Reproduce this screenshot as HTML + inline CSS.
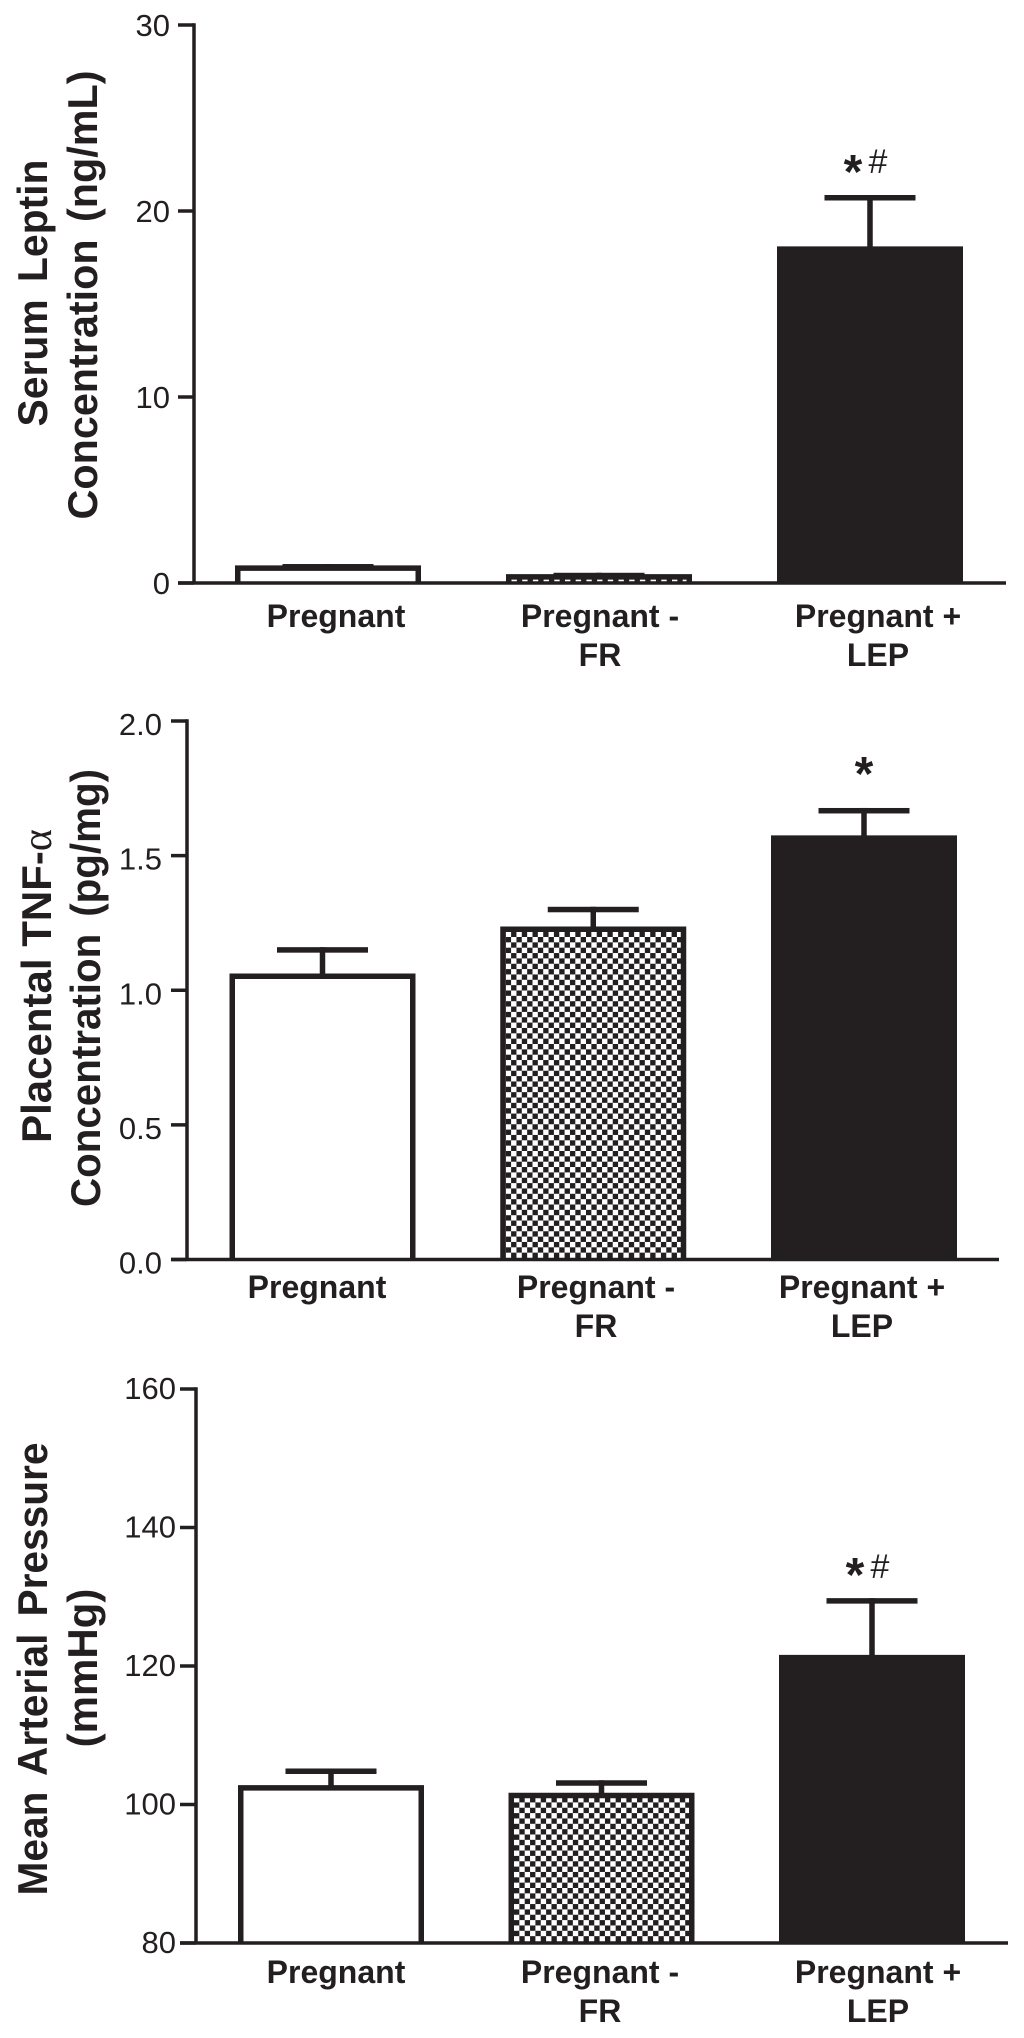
<!DOCTYPE html>
<html lang="en">
<head>
<meta charset="utf-8">
<title>Serum leptin, placental TNF-alpha and mean arterial pressure</title>
<style>
  html, body { margin: 0; padding: 0; background: #fff; }
  svg { display: block; }
  text { fill: #231f20; font-family: "Liberation Sans", sans-serif; }
  .tick { font-size: 31px; }
  .cat { font-size: 32px; font-weight: bold; }
  .ytitle { font-size: 42px; font-weight: bold; word-spacing: 6px; }
</style>
</head>
<body>
<svg id="figure" xmlns="http://www.w3.org/2000/svg" width="1024" height="2038" viewBox="0 0 1024 2038">
  <rect x="0" y="0" width="1024" height="2038" fill="#fff"/>
  <g>
    <text class="ytitle" transform="translate(47,293) rotate(-90)" text-anchor="middle" textLength="267" lengthAdjust="spacingAndGlyphs">Serum Leptin</text>
    <text class="ytitle" transform="translate(97,295) rotate(-90)" text-anchor="middle" textLength="449" lengthAdjust="spacingAndGlyphs">Concentration (ng/mL)</text>
  </g>
  <g>
    <text class="ytitle" transform="translate(51,986) rotate(-90)" text-anchor="middle" style="word-spacing:0">Placental TNF-<tspan style="font-family:'Liberation Serif',serif;font-weight:normal">α</tspan></text>
    <text class="ytitle" transform="translate(100,988) rotate(-90)" text-anchor="middle" textLength="438" lengthAdjust="spacingAndGlyphs">Concentration (pg/mg)</text>
  </g>
  <g>
    <text class="ytitle" transform="translate(47,1669) rotate(-90)" text-anchor="middle" textLength="453" lengthAdjust="spacingAndGlyphs">Mean Arterial Pressure</text>
    <text class="ytitle" transform="translate(97,1668) rotate(-90)" text-anchor="middle">(mmHg)</text>
  </g>
</svg>
<script>
// Shared category labels (two-line x labels)
const categoryLine1 = ['Pregnant', 'Pregnant -', 'Pregnant +'];
const categoryLine2 = ['', 'FR', 'LEP'];

// Panel 1: serum leptin
const leptinTicks = [0, 10, 20, 30];
const leptinTickLabels = ['0', '10', '20', '30'];
const leptinValues = [0.95, 0.48, 18.1];
const leptinErrors = [1.02, 0.55, 20.86];
const leptinMarks = ['', '', '*#'];

// Panel 2: placental TNF-alpha
const tnfTicks = [0, 0.5, 1, 1.5, 2];
const tnfTickLabels = ['0.0', '0.5', '1.0', '1.5', '2.0'];
const tnfValues = [1.062, 1.237, 1.575];
const tnfErrors = [1.16, 1.31, 1.677];
const tnfMarks = ['', '', '*'];

// Panel 3: mean arterial pressure
const pressureTicks = [80, 100, 120, 140, 160];
const pressureTickLabels = ['80', '100', '120', '140', '160'];
const pressureValues = [102.8, 101.7, 121.6];
const pressureErrors = [105.2, 103.5, 129.8];
const pressureMarks = ['', '', '*#'];

const INK = '#231f20';
const NS = 'http://www.w3.org/2000/svg';
const svg = document.getElementById('figure');

function make(parent, tag, attrs) {
  const el = document.createElementNS(NS, tag);
  for (const k in attrs) el.setAttribute(k, attrs[k]);
  parent.appendChild(el);
  return el;
}

function drawPanel(p) {
  const yOf = v => p.y0 + (v - p.vMin) / (p.vMax - p.vMin) * (p.y1 - p.y0);
  const xOf = i => p.firstCenter + i * p.step;
  const border = 5.5;

  const group = make(svg, 'g', {});
  
  

  // checker fill, anchored on the baseline and on the second bar's inner edge
  const defs = make(group, 'defs', {});
  const cell = 5.35;
  const pat = make(defs, 'pattern', {
    id: p.name + '-checker', patternUnits: 'userSpaceOnUse',
    width: cell * 2, height: cell * 2,
    patternTransform: 'translate(' + (xOf(1) - p.barW / 2 + border) + ',' + (p.y0 - 1.5) + ')'
  });
  make(pat, 'rect', { x: 0, y: 0, width: cell * 2, height: cell * 2, fill: '#fff' });
  make(pat, 'rect', { x: 0, y: 0, width: cell, height: cell, fill: INK });
  make(pat, 'rect', { x: cell, y: cell, width: cell, height: cell, fill: INK });
  const fills = ['#fff', 'url(#' + p.name + '-checker)', INK];

  // bars and error bars
  p.values.forEach((v, i) => {
    const cx = xOf(i);
    const top = yOf(v);
    const errTop = yOf(p.errors[i]);

    const stem = make(group, 'rect', { x: cx - border / 2, y: errTop, width: border, height: Math.max(0, top - errTop + 1), fill: INK });
    
    

    const cap = make(group, 'rect', { x: cx - 45.5, y: errTop, width: 91, height: border, fill: INK });
    
    

    // three-sided outline: the baseline closes the bottom of the bar
    const left = cx - p.barW / 2 + border / 2;
    const right = cx + p.barW / 2 - border / 2;
    const inTop = top + border / 2;
    const bar = make(group, 'path', {
      d: 'M' + left + ' ' + p.y0 + 'V' + inTop + 'H' + right + 'V' + p.y0,
      fill: fills[i], stroke: INK, 'stroke-width': border
    });
    
    

    // significance marks
    const mark = p.marks[i];
    if (mark) {
      const both = mark.length > 1;
      const star = make(group, 'text', {
        x: both ? cx - 17 : cx, y: errTop + p.starDy,
        'text-anchor': 'middle', 'font-size': 48, 'font-weight': 'bold'
      });
      star.textContent = mark.charAt(0);
      
      
      if (both) {
        const hash = make(group, 'text', {
          x: cx + 8, y: errTop + p.hashDy,
          'text-anchor': 'middle', 'font-size': 34
        });
        hash.textContent = mark.charAt(1);
        
        
      }
    }

    // category labels
    const lab1 = make(group, 'text', { class: 'cat', x: p.labelX[i], y: p.labelY, 'text-anchor': 'middle' });
    lab1.textContent = categoryLine1[i];
    
    
    if (categoryLine2[i]) {
      const lab2 = make(group, 'text', { class: 'cat', x: p.labelX[i], y: p.labelY + 39, 'text-anchor': 'middle' });
      lab2.textContent = categoryLine2[i];
      
      
    }
  });

  // axes
  const yAxis = make(group, 'line', { x1: p.axisX, x2: p.axisX, y1: yOf(p.vMax) - 1.75, y2: p.y0, stroke: INK, 'stroke-width': 3.5 });
  
  

  const xAxis = make(group, 'line', { x1: p.axisX - 16, x2: p.xEnd, y1: p.y0, y2: p.y0, stroke: INK, 'stroke-width': 3.5 });
  
  

  p.ticks.forEach((t, i) => {
    const y = yOf(t);
    const tick = make(group, 'line', { x1: p.axisX - 16, x2: p.axisX, y1: y, y2: y, stroke: INK, 'stroke-width': 3.5 });
    
    

    const label = make(group, 'text', { class: 'tick', x: p.axisX - p.tickGap, y: y + p.tickDy, 'text-anchor': 'end' });
    label.textContent = p.tickLabels[i];
    
    
  });
}

drawPanel({
  name: 'leptin', values: leptinValues, errors: leptinErrors, marks: leptinMarks,
  ticks: leptinTicks, tickLabels: leptinTickLabels,
  vMin: 0, vMax: 30, y0: 583, y1: 25, axisX: 194, xEnd: 1006,
  firstCenter: 328, step: 271, barW: 186,
  labelX: [336, 600, 878], labelY: 627, tickGap: 24, tickDy: 11, starDy: -7, hashDy: -22
});

drawPanel({
  name: 'tnf', values: tnfValues, errors: tnfErrors, marks: tnfMarks,
  ticks: tnfTicks, tickLabels: tnfTickLabels,
  vMin: 0, vMax: 2, y0: 1259.5, y1: 721, axisX: 187, xEnd: 999,
  firstCenter: 322.5, step: 270.75, barW: 186,
  labelX: [317, 596, 862], labelY: 1298, tickGap: 25, tickDy: 14, starDy: -18, hashDy: -22
});

drawPanel({
  name: 'pressure', values: pressureValues, errors: pressureErrors, marks: pressureMarks,
  ticks: pressureTicks, tickLabels: pressureTickLabels,
  vMin: 80, vMax: 160, y0: 1943, y1: 1389, axisX: 196, xEnd: 1008,
  firstCenter: 331, step: 270.5, barW: 186,
  labelX: [336, 600, 878], labelY: 1983, tickGap: 20, tickDy: 10, starDy: -7, hashDy: -20
});
</script>
</body>
</html>
